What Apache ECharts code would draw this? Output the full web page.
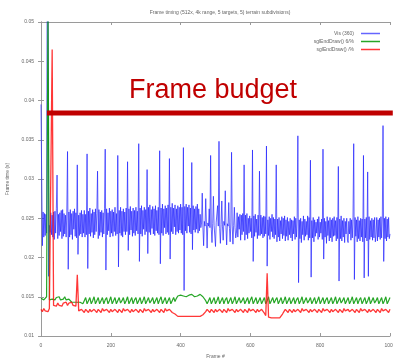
<!DOCTYPE html>
<html>
<head>
<meta charset="utf-8">
<script src="https://cdn.jsdelivr.net/npm/echarts@6/dist/echarts.min.js"></script>
<style>
  html, body { margin: 0; padding: 0; background: #ffffff; }
  #chart { width: 393px; height: 358px; }
</style>
</head>
<body>
<div id="chart"></div>
<script>
// Frame times in seconds. Vis is sampled every 2 frames, the end-draw timers every 4.
const VIS_STEP = 2;
const END_DRAW_STEP = 4;

const visTimes = [
  0.0395, 0.0300, 0.0215, 0.0258, 0.0226, 0.0256, 0.0228, 0.0255, 0.0231, 0.0600, 0.0580, 0.0176, 0.0241, 0.0232, 0.0257, 0.0229, 0.0254, 0.0226, 0.0258, 0.0223,
  0.0259, 0.0231, 0.0262, 0.0305, 0.0224, 0.0255, 0.0228, 0.0257, 0.0233, 0.0260, 0.0224, 0.0261, 0.0227, 0.0256, 0.0230, 0.0254, 0.0226, 0.0258, 0.0335, 0.0185,
  0.0258, 0.0226, 0.0261, 0.0229, 0.0256, 0.0223, 0.0259, 0.0236, 0.0262, 0.0227, 0.0257, 0.0225, 0.0318, 0.0204, 0.0254, 0.0228, 0.0257, 0.0230, 0.0260, 0.0226,
  0.0255, 0.0231, 0.0260, 0.0226, 0.0255, 0.0229, 0.0332, 0.0186, 0.0259, 0.0230, 0.0263, 0.0227, 0.0256, 0.0232, 0.0261, 0.0225, 0.0258, 0.0229, 0.0262, 0.0233,
  0.0256, 0.0310, 0.0224, 0.0261, 0.0228, 0.0258, 0.0232, 0.0260, 0.0226, 0.0257, 0.0230, 0.0262, 0.0338, 0.0184, 0.0262, 0.0229, 0.0257, 0.0234, 0.0263, 0.0226,
  0.0259, 0.0231, 0.0261, 0.0227, 0.0258, 0.0233, 0.0264, 0.0228, 0.0256, 0.0230, 0.0330, 0.0188, 0.0260, 0.0231, 0.0264, 0.0228, 0.0259, 0.0226, 0.0262, 0.0233,
  0.0258, 0.0229, 0.0263, 0.0233, 0.0322, 0.0209, 0.0262, 0.0229, 0.0265, 0.0235, 0.0259, 0.0227, 0.0263, 0.0231, 0.0260, 0.0228, 0.0264, 0.0234, 0.0259, 0.0230,
  0.0345, 0.0195, 0.0263, 0.0230, 0.0266, 0.0227, 0.0260, 0.0236, 0.0264, 0.0229, 0.0261, 0.0233, 0.0312, 0.0205, 0.0264, 0.0232, 0.0267, 0.0229, 0.0261, 0.0237,
  0.0265, 0.0230, 0.0262, 0.0228, 0.0266, 0.0234, 0.0260, 0.0231, 0.0264, 0.0229, 0.0336, 0.0192, 0.0263, 0.0231, 0.0268, 0.0228, 0.0262, 0.0238, 0.0266, 0.0230,
  0.0263, 0.0232, 0.0267, 0.0229, 0.0326, 0.0198, 0.0264, 0.0233, 0.0269, 0.0230, 0.0263, 0.0239, 0.0267, 0.0229, 0.0262, 0.0233, 0.0266, 0.0231, 0.0264, 0.0235,
  0.0268, 0.0231, 0.0264, 0.0229, 0.0340, 0.0158, 0.0265, 0.0234, 0.0268, 0.0231, 0.0264, 0.0240, 0.0267, 0.0232, 0.0263, 0.0230, 0.0321, 0.0210, 0.0266, 0.0235,
  0.0262, 0.0232, 0.0265, 0.0236, 0.0268, 0.0231, 0.0262, 0.0234, 0.0255, 0.0238, 0.0244, 0.0282, 0.0238, 0.0215, 0.0246, 0.0240, 0.0275, 0.0242, 0.0212, 0.0244,
  0.0240, 0.0262, 0.0238, 0.0330, 0.0236, 0.0219, 0.0243, 0.0278, 0.0241, 0.0239, 0.0214, 0.0245, 0.0243, 0.0266, 0.0240, 0.0348, 0.0237, 0.0218, 0.0242, 0.0272,
  0.0239, 0.0222, 0.0246, 0.0241, 0.0285, 0.0238, 0.0216, 0.0243, 0.0240, 0.0270, 0.0237, 0.0220, 0.0244, 0.0334, 0.0239, 0.0217, 0.0241, 0.0264, 0.0238, 0.0225,
  0.0231, 0.0257, 0.0226, 0.0252, 0.0236, 0.0255, 0.0222, 0.0254, 0.0229, 0.0256, 0.0233, 0.0318, 0.0222, 0.0254, 0.0229, 0.0256, 0.0224, 0.0250, 0.0231, 0.0253,
  0.0233, 0.0250, 0.0225, 0.0337, 0.0195, 0.0253, 0.0227, 0.0255, 0.0232, 0.0249, 0.0224, 0.0254, 0.0228, 0.0310, 0.0228, 0.0254, 0.0230, 0.0251, 0.0225, 0.0253,
  0.0227, 0.0252, 0.0230, 0.0342, 0.0189, 0.0248, 0.0228, 0.0252, 0.0223, 0.0250, 0.0233, 0.0255, 0.0226, 0.0251, 0.0224, 0.0249, 0.0229, 0.0318, 0.0220, 0.0249,
  0.0226, 0.0251, 0.0221, 0.0247, 0.0230, 0.0252, 0.0224, 0.0250, 0.0228, 0.0253, 0.0221, 0.0248, 0.0227, 0.0251, 0.0222, 0.0246, 0.0229, 0.0250, 0.0225, 0.0248,
  0.0221, 0.0247, 0.0230, 0.0252, 0.0223, 0.0250, 0.0226, 0.0251, 0.0355, 0.0168, 0.0248, 0.0224, 0.0250, 0.0219, 0.0246, 0.0229, 0.0253, 0.0222, 0.0249, 0.0227,
  0.0246, 0.0229, 0.0253, 0.0222, 0.0251, 0.0225, 0.0324, 0.0175, 0.0247, 0.0225, 0.0251, 0.0220, 0.0248, 0.0227, 0.0245, 0.0231, 0.0249, 0.0223, 0.0252, 0.0226,
  0.0245, 0.0231, 0.0249, 0.0223, 0.0338, 0.0198, 0.0250, 0.0226, 0.0246, 0.0218, 0.0252, 0.0228, 0.0247, 0.0221, 0.0251, 0.0225, 0.0248, 0.0220, 0.0250, 0.0227,
  0.0252, 0.0228, 0.0247, 0.0221, 0.0251, 0.0224, 0.0316, 0.0170, 0.0249, 0.0224, 0.0253, 0.0221, 0.0247, 0.0226, 0.0250, 0.0219, 0.0246, 0.0230, 0.0250, 0.0222,
  0.0219, 0.0246, 0.0230, 0.0250, 0.0222, 0.0248, 0.0225, 0.0251, 0.0345, 0.0172, 0.0251, 0.0227, 0.0248, 0.0220, 0.0252, 0.0224, 0.0247, 0.0221, 0.0250, 0.0226,
  0.0249, 0.0220, 0.0330, 0.0174, 0.0249, 0.0225, 0.0251, 0.0221, 0.0309, 0.0176, 0.0252, 0.0223, 0.0247, 0.0226, 0.0250, 0.0222, 0.0248, 0.0225, 0.0251, 0.0220,
  0.0229, 0.0251, 0.0221, 0.0248, 0.0226, 0.0250, 0.0223, 0.0252, 0.0225, 0.0249, 0.0368, 0.0195, 0.0250, 0.0224, 0.0252, 0.0221, 0.0249, 0.0226, 0.0251, 0.0224,
  0.0230
];

const endDraw6Times = [
  0.0148, 0.0149, 0.0146, 0.0148, 0.0150, 0.0520, 0.0146, 0.0148, 0.0147, 0.0149,
  0.0146, 0.0149, 0.0147, 0.0150, 0.0146, 0.0148, 0.0147, 0.0150, 0.0146, 0.0148,
  0.0147, 0.0145, 0.0143, 0.0144, 0.0143, 0.0144, 0.0143, 0.0144, 0.0143, 0.0144,
  0.0141, 0.0145, 0.0149, 0.0141, 0.0145, 0.0149, 0.0141, 0.0145, 0.0150, 0.0141,
  0.0145, 0.0149, 0.0141, 0.0145, 0.0149, 0.0141, 0.0146, 0.0149, 0.0141, 0.0145,
  0.0150, 0.0141, 0.0145, 0.0149, 0.0141, 0.0145, 0.0149, 0.0142, 0.0145, 0.0149,
  0.0141, 0.0145, 0.0150, 0.0141, 0.0145, 0.0149, 0.0141, 0.0146, 0.0149, 0.0141,
  0.0145, 0.0149, 0.0141, 0.0145, 0.0150, 0.0141, 0.0145, 0.0149, 0.0142, 0.0145,
  0.0149, 0.0141, 0.0145, 0.0149, 0.0141, 0.0146, 0.0150, 0.0141, 0.0145, 0.0149,
  0.0141, 0.0145, 0.0149, 0.0141, 0.0145, 0.0149, 0.0144, 0.0148, 0.0151, 0.0150,
  0.0152, 0.0150, 0.0151, 0.0153, 0.0150, 0.0151, 0.0152, 0.0150, 0.0153, 0.0151,
  0.0150, 0.0152, 0.0151, 0.0150, 0.0153, 0.0151, 0.0150, 0.0149, 0.0145, 0.0141,
  0.0145, 0.0149, 0.0141, 0.0145, 0.0149, 0.0141, 0.0145, 0.0150, 0.0141, 0.0145,
  0.0149, 0.0141, 0.0146, 0.0149, 0.0141, 0.0145, 0.0149, 0.0141, 0.0145, 0.0150,
  0.0141, 0.0145, 0.0149, 0.0142, 0.0145, 0.0149, 0.0141, 0.0145, 0.0149, 0.0141,
  0.0146, 0.0150, 0.0141, 0.0145, 0.0149, 0.0141, 0.0145, 0.0149, 0.0141, 0.0145,
  0.0149, 0.0141, 0.0145, 0.0150, 0.0141, 0.0145, 0.0149, 0.0142, 0.0146, 0.0149,
  0.0141, 0.0145, 0.0149, 0.0141, 0.0145, 0.0150, 0.0141, 0.0145, 0.0149, 0.0141,
  0.0145, 0.0149, 0.0141, 0.0146, 0.0149, 0.0141, 0.0145, 0.0150, 0.0141, 0.0145,
  0.0149, 0.0142, 0.0145, 0.0149, 0.0141, 0.0145, 0.0149, 0.0141, 0.0145, 0.0150,
  0.0141, 0.0145, 0.0149, 0.0141, 0.0146, 0.0149, 0.0141, 0.0145, 0.0149, 0.0141,
  0.0145, 0.0150, 0.0141, 0.0145, 0.0149, 0.0142, 0.0145, 0.0149, 0.0141, 0.0145,
  0.0149, 0.0141, 0.0145, 0.0150, 0.0141, 0.0145, 0.0149, 0.0141, 0.0146, 0.0149,
  0.0141, 0.0145, 0.0149, 0.0141, 0.0145, 0.0150, 0.0141, 0.0145, 0.0149, 0.0142,
  0.0145, 0.0149, 0.0141, 0.0145, 0.0149, 0.0141, 0.0145, 0.0150, 0.0141, 0.0145,
  0.0149
];

const endDrawTimes = [
  0.0134, 0.0131, 0.0135, 0.0132, 0.0134, 0.0131, 0.0135, 0.0133, 0.0465, 0.0139,
  0.0141, 0.0138, 0.0142, 0.0139, 0.0141, 0.0138, 0.0142, 0.0140, 0.0143, 0.0139,
  0.0142, 0.0140, 0.0143, 0.0139, 0.0141, 0.0138, 0.0178, 0.0132, 0.0130, 0.0134,
  0.0132, 0.0130, 0.0134, 0.0132, 0.0130, 0.0134, 0.0131, 0.0130, 0.0134, 0.0132,
  0.0130, 0.0134, 0.0132, 0.0130, 0.0135, 0.0132, 0.0130, 0.0134, 0.0132, 0.0130,
  0.0134, 0.0131, 0.0130, 0.0134, 0.0132, 0.0130, 0.0134, 0.0132, 0.0130, 0.0135,
  0.0132, 0.0130, 0.0134, 0.0132, 0.0130, 0.0134, 0.0131, 0.0130, 0.0134, 0.0132,
  0.0130, 0.0134, 0.0132, 0.0130, 0.0135, 0.0132, 0.0130, 0.0134, 0.0132, 0.0130,
  0.0134, 0.0131, 0.0130, 0.0134, 0.0132, 0.0130, 0.0134, 0.0132, 0.0130, 0.0135,
  0.0132, 0.0130, 0.0134, 0.0132, 0.0130, 0.0131, 0.0128, 0.0126, 0.0125, 0.0124,
  0.0125, 0.0124, 0.0125, 0.0124, 0.0125, 0.0124, 0.0125, 0.0124, 0.0125, 0.0124,
  0.0125, 0.0124, 0.0125, 0.0124, 0.0125, 0.0126, 0.0127, 0.0129, 0.0131, 0.0134,
  0.0132, 0.0130, 0.0134, 0.0132, 0.0130, 0.0134, 0.0131, 0.0130, 0.0134, 0.0132,
  0.0130, 0.0134, 0.0132, 0.0130, 0.0135, 0.0132, 0.0130, 0.0134, 0.0132, 0.0130,
  0.0134, 0.0131, 0.0130, 0.0134, 0.0132, 0.0130, 0.0134, 0.0132, 0.0130, 0.0135,
  0.0132, 0.0130, 0.0134, 0.0132, 0.0130, 0.0134, 0.0131, 0.0130, 0.0134, 0.0132,
  0.0129, 0.0126, 0.0180, 0.0124, 0.0122, 0.0123, 0.0122, 0.0123, 0.0122, 0.0123,
  0.0122, 0.0123, 0.0125, 0.0128, 0.0131, 0.0134, 0.0132, 0.0130, 0.0134, 0.0132,
  0.0130, 0.0134, 0.0131, 0.0130, 0.0134, 0.0132, 0.0130, 0.0135, 0.0132, 0.0130,
  0.0134, 0.0132, 0.0130, 0.0134, 0.0131, 0.0130, 0.0134, 0.0132, 0.0130, 0.0134,
  0.0132, 0.0130, 0.0135, 0.0132, 0.0130, 0.0134, 0.0132, 0.0130, 0.0134, 0.0131,
  0.0130, 0.0134, 0.0132, 0.0130, 0.0134, 0.0132, 0.0130, 0.0135, 0.0132, 0.0130,
  0.0134, 0.0131, 0.0130, 0.0134, 0.0132, 0.0130, 0.0134, 0.0132, 0.0130, 0.0135,
  0.0132, 0.0130, 0.0134, 0.0132, 0.0130, 0.0134, 0.0131, 0.0130, 0.0134, 0.0132,
  0.0130, 0.0134, 0.0132, 0.0130, 0.0135, 0.0132, 0.0130, 0.0134, 0.0132, 0.0130,
  0.0134
];

const seriesNames = ['Vis (360)', 'sglEndDraw() 6/%', 'sglEndDraw() /%'];
const seriesSteps = [VIS_STEP, END_DRAW_STEP, END_DRAW_STEP];
const seriesColors = ['rgba(35, 35, 255, 0.7)', 'rgba(0, 150, 0, 0.85)', 'rgba(255, 20, 20, 0.85)'];
const seriesWidths = [1, 1.2, 1.3];

// Frame budget threshold and the frame range it is drawn over.
const frameBudget = 0.0384;
const budgetFrames = [17, 1008];

const titleText = 'Frame timing (512x, 4k range, 5 targets, 5) terrain subdivisions)';

function toPoints(values, step) {
  return values.map((v, i) => [i * step, v]);
}

const chart = echarts.init(document.getElementById('chart'), null, { renderer: 'canvas' });

const axisGrey = '#9a9a9a';
const labelGrey = '#666666';
const tinyFont = 'Liberation Sans';

const baseX = {
  type: 'value', min: 0, max: 1000, interval: 200,
  axisLine: { show: true, lineStyle: { color: axisGrey, width: 1 } },
  axisTick: { show: true, inside: true, length: 3, lineStyle: { color: axisGrey } },
  splitLine: { show: false }
};
const baseY = {
  type: 'value', min: 0.01, max: 0.05, interval: 0.005,
  axisLine: { show: true, lineStyle: { color: axisGrey, width: 1 } },
  axisTick: { show: true, inside: true, length: 3, lineStyle: { color: axisGrey } },
  splitLine: { show: false }
};

const dataSeries = [visTimes, endDraw6Times, endDrawTimes].map((vals, k) => ({
  name: seriesNames[k],
  type: 'line',
  data: toPoints(vals, seriesSteps[k]),
  showSymbol: false,
  symbol: 'none',
  clip: true,
  lineStyle: { width: seriesWidths[k], color: seriesColors[k] },
  itemStyle: { color: seriesColors[k] },
  z: 2 + k
}));

dataSeries.push({
  name: 'budget',
  type: 'line',
  data: budgetFrames.map(f => [f, frameBudget]),
  showSymbol: false,
  symbol: 'none',
  clip: false,
  lineStyle: { width: 5, color: '#c00000' },
  z: 10
});

chart.setOption({
  animation: false,
  backgroundColor: '#ffffff',
  title: {
    text: titleText,
    left: 215, top: 5, textAlign: 'center',
    textStyle: { fontSize: 5, fontWeight: 'normal', color: labelGrey, fontFamily: tinyFont }
  },
  legend: {
    data: seriesNames,
    orient: 'vertical',
    right: 8, top: 26,
    align: 'right',
    icon: 'rect',
    itemWidth: 19, itemHeight: 1.5,
    itemGap: 3,
    textStyle: { fontSize: 5, color: labelGrey, fontFamily: tinyFont, padding: [0, 2, 0, 0] }
  },
  grid: { left: 41, right: 3, top: 22, bottom: 22, containLabel: false, outerBoundsMode: 'none' },
  xAxis: [
    Object.assign({}, baseX, {
      position: 'bottom',
      name: 'Frame #', nameLocation: 'middle', nameGap: 18,
      nameTextStyle: { fontSize: 5, color: labelGrey, fontFamily: tinyFont },
      axisLabel: { fontSize: 5, color: labelGrey, fontFamily: tinyFont, margin: 7, formatter: v => String(v) }
    }),
    Object.assign({}, baseX, { position: 'top', axisLabel: { show: false } })
  ],
  yAxis: [
    Object.assign({}, baseY, {
      position: 'left',
      name: 'Frame time (s)', nameLocation: 'middle', nameGap: 27,
      nameTextStyle: { fontSize: 5, color: labelGrey, fontFamily: tinyFont },
      axisLabel: {
        fontSize: 5, color: labelGrey, fontFamily: tinyFont, margin: 7,
        formatter: v => String(+v.toFixed(3))
      }
    }),
    Object.assign({}, baseY, { position: 'right', axisLabel: { show: false } })
  ],
  series: dataSeries,
  graphic: [{
    type: 'text',
    x: 213, y: 91,
    z: 20,
    style: {
      text: 'Frame budget',
      fill: '#c00000',
      font: '27px "Liberation Sans", Arial, sans-serif',
      textAlign: 'center',
      textVerticalAlign: 'middle'
    }
  }]
});
</script>
</body>
</html>
